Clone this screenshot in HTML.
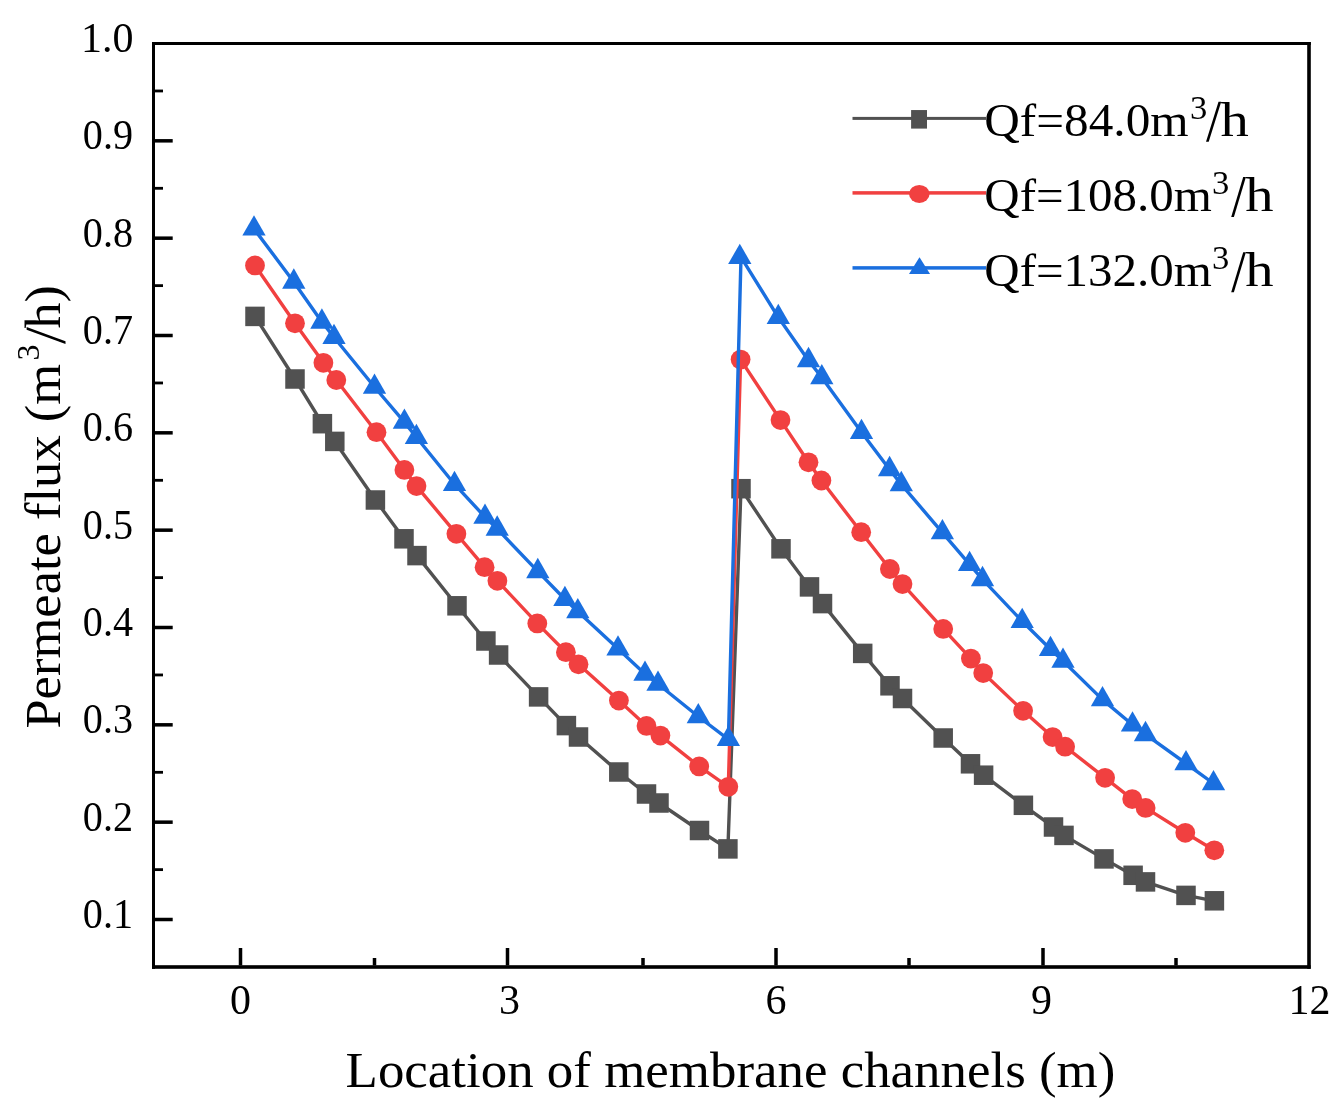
<!DOCTYPE html>
<html><head><meta charset="utf-8"><title>Permeate flux chart</title>
<style>html,body{margin:0;padding:0;background:#fff;}body{width:1343px;height:1109px;overflow:hidden;font-family:"Liberation Serif",serif;}svg{display:block;will-change:transform;}</style>
</head><body>
<svg width="1343" height="1109" viewBox="0 0 1343 1109"><rect x="152" y="42" width="3" height="926.8" fill="#000"/>
<rect x="152" y="42" width="1158.8" height="3" fill="#000"/>
<rect x="1307.2" y="42" width="3.6" height="926.8" fill="#000"/>
<rect x="152" y="965.2" width="1158.6" height="3.6" fill="#000"/>
<rect x="155" y="89.57" width="8" height="2.8" fill="#000"/>
<rect x="155" y="139.08" width="17.7" height="3.5" fill="#000"/>
<rect x="155" y="186.9" width="8" height="2.8" fill="#000"/>
<rect x="155" y="236.42" width="17.7" height="3.5" fill="#000"/>
<rect x="155" y="284.23" width="8" height="2.8" fill="#000"/>
<rect x="155" y="333.75" width="17.7" height="3.5" fill="#000"/>
<rect x="155" y="381.57" width="8" height="2.8" fill="#000"/>
<rect x="155" y="431.08" width="17.7" height="3.5" fill="#000"/>
<rect x="155" y="478.9" width="8" height="2.8" fill="#000"/>
<rect x="155" y="528.41" width="17.7" height="3.5" fill="#000"/>
<rect x="155" y="576.23" width="8" height="2.8" fill="#000"/>
<rect x="155" y="625.75" width="17.7" height="3.5" fill="#000"/>
<rect x="155" y="673.56" width="8" height="2.8" fill="#000"/>
<rect x="155" y="723.08" width="17.7" height="3.5" fill="#000"/>
<rect x="155" y="770.9" width="8" height="2.8" fill="#000"/>
<rect x="155" y="820.41" width="17.7" height="3.5" fill="#000"/>
<rect x="155" y="868.23" width="8" height="2.8" fill="#000"/>
<rect x="155" y="917.75" width="17.7" height="3.5" fill="#000"/>
<rect x="238.75" y="948" width="3.5" height="17.5" fill="#000"/>
<rect x="505.75" y="948" width="3.5" height="17.5" fill="#000"/>
<rect x="774.25" y="948" width="3.5" height="17.5" fill="#000"/>
<rect x="1041.25" y="948" width="3.5" height="17.5" fill="#000"/>
<rect x="372.75" y="958" width="3.5" height="7.5" fill="#000"/>
<rect x="641.25" y="958" width="3.5" height="7.5" fill="#000"/>
<rect x="907.25" y="958" width="3.5" height="7.5" fill="#000"/>
<rect x="1174.25" y="958" width="3.5" height="7.5" fill="#000"/>
<g font-family="Liberation Serif" font-size="42" fill="#000"><text x="133.5" y="51.5" text-anchor="end">1.0</text><text x="133" y="149.43" text-anchor="end" textLength="50.2" lengthAdjust="spacingAndGlyphs">0.9</text><text x="133" y="246.77" text-anchor="end" textLength="50.2" lengthAdjust="spacingAndGlyphs">0.8</text><text x="133" y="344.1" text-anchor="end" textLength="50.2" lengthAdjust="spacingAndGlyphs">0.7</text><text x="133" y="441.43" text-anchor="end" textLength="50.2" lengthAdjust="spacingAndGlyphs">0.6</text><text x="133" y="538.76" text-anchor="end" textLength="50.2" lengthAdjust="spacingAndGlyphs">0.5</text><text x="133" y="636.1" text-anchor="end" textLength="50.2" lengthAdjust="spacingAndGlyphs">0.4</text><text x="133" y="733.43" text-anchor="end" textLength="50.2" lengthAdjust="spacingAndGlyphs">0.3</text><text x="133" y="830.76" text-anchor="end" textLength="50.2" lengthAdjust="spacingAndGlyphs">0.2</text><text x="133" y="928.1" text-anchor="end" textLength="50.2" lengthAdjust="spacingAndGlyphs">0.1</text></g>
<g font-family="Liberation Serif" font-size="42" fill="#000"><text x="240.5" y="1014.4" text-anchor="middle">0</text><text x="509.5" y="1014.4" text-anchor="middle">3</text><text x="776" y="1014.4" text-anchor="middle">6</text><text x="1041.5" y="1014.4" text-anchor="middle">9</text><text x="1309.6" y="1014.4" text-anchor="middle">12</text></g>
<text x="345.6" y="1087.4" font-family="Liberation Serif" font-size="49.6" textLength="769.8" lengthAdjust="spacingAndGlyphs">Location of membrane channels (m)</text>
<g transform="translate(60,727.1) rotate(-90)" font-family="Liberation Serif" fill="#000"><text x="-1.52" y="0" font-size="49.6" textLength="364.8" lengthAdjust="spacingAndGlyphs">Permeate flux (m</text><text x="366.7" y="-20.6" font-size="32">3</text><text x="398.6" y="0" font-size="49.6" textLength="43.3" lengthAdjust="spacingAndGlyphs">h)</text></g>
<polygon points="26.6,327.0 65.5,341.3 65.5,344.0 26.6,329.7" fill="#000"/>
<polyline points="255,316.4 295,379 322.4,423.7 334.8,441.4 375.4,500 404,538.8 417,555.6 457,605.8 485.9,641 498.6,655 538.6,696.9 566.4,725.6 578.5,737 618.8,772 646.5,794 659,803 699.5,830.5 727.9,848.9 741,488.7 781,548.8 809.5,586.9 822.5,603.6 862.7,653.4 890,685.8 902.5,698.5 943.2,738 970.5,763.8 983.6,775.2 1023.4,805.3 1053.5,827 1064,835.4 1104,858.9 1133.1,875.3 1145.5,881.9 1186,895.4 1214.4,900.8" fill="none" stroke="#515151" stroke-width="3.4" stroke-linejoin="round" stroke-linecap="round"/>
<g fill="#515151"><rect x="245.25" y="306.65" width="19.5" height="19.5"/><rect x="285.25" y="369.25" width="19.5" height="19.5"/><rect x="312.65" y="413.95" width="19.5" height="19.5"/><rect x="325.05" y="431.65" width="19.5" height="19.5"/><rect x="365.65" y="490.25" width="19.5" height="19.5"/><rect x="394.25" y="529.05" width="19.5" height="19.5"/><rect x="407.25" y="545.85" width="19.5" height="19.5"/><rect x="447.25" y="596.05" width="19.5" height="19.5"/><rect x="476.15" y="631.25" width="19.5" height="19.5"/><rect x="488.85" y="645.25" width="19.5" height="19.5"/><rect x="528.85" y="687.15" width="19.5" height="19.5"/><rect x="556.65" y="715.85" width="19.5" height="19.5"/><rect x="568.75" y="727.25" width="19.5" height="19.5"/><rect x="609.05" y="762.25" width="19.5" height="19.5"/><rect x="636.75" y="784.25" width="19.5" height="19.5"/><rect x="649.25" y="793.25" width="19.5" height="19.5"/><rect x="689.75" y="820.75" width="19.5" height="19.5"/><rect x="718.15" y="839.15" width="19.5" height="19.5"/><rect x="731.25" y="478.95" width="19.5" height="19.5"/><rect x="771.25" y="539.05" width="19.5" height="19.5"/><rect x="799.75" y="577.15" width="19.5" height="19.5"/><rect x="812.75" y="593.85" width="19.5" height="19.5"/><rect x="852.95" y="643.65" width="19.5" height="19.5"/><rect x="880.25" y="676.05" width="19.5" height="19.5"/><rect x="892.75" y="688.75" width="19.5" height="19.5"/><rect x="933.45" y="728.25" width="19.5" height="19.5"/><rect x="960.75" y="754.05" width="19.5" height="19.5"/><rect x="973.85" y="765.45" width="19.5" height="19.5"/><rect x="1013.65" y="795.55" width="19.5" height="19.5"/><rect x="1043.75" y="817.25" width="19.5" height="19.5"/><rect x="1054.25" y="825.65" width="19.5" height="19.5"/><rect x="1094.25" y="849.15" width="19.5" height="19.5"/><rect x="1123.35" y="865.55" width="19.5" height="19.5"/><rect x="1135.75" y="872.15" width="19.5" height="19.5"/><rect x="1176.25" y="885.65" width="19.5" height="19.5"/><rect x="1204.65" y="891.05" width="19.5" height="19.5"/></g>
<polyline points="255,265.4 295,323.3 323.4,362.8 336.3,380 376.5,432.2 404.4,469.9 416.5,486.1 456.4,533.8 484.6,567.2 497.4,580.8 537.3,623.4 565.9,652.2 578.5,664.3 618.9,700.6 646.5,725.9 660.4,735.6 699.2,766.4 728.3,786.8 740.6,359.6 780.5,420.1 808.5,462.3 821.4,480.5 861.2,532.2 889.9,569 902.5,584.1 943.2,628.9 970.9,658.6 983.2,673.1 1023.1,710.8 1052.6,737.1 1065.1,746.7 1105.1,777.8 1132.2,799.1 1145.6,807.9 1185.3,832.8 1214.3,850.3" fill="none" stroke="#F14040" stroke-width="3.4" stroke-linejoin="round" stroke-linecap="round"/>
<g fill="#F14040"><circle cx="255" cy="265.4" r="9.9"/><circle cx="295" cy="323.3" r="9.9"/><circle cx="323.4" cy="362.8" r="9.9"/><circle cx="336.3" cy="380" r="9.9"/><circle cx="376.5" cy="432.2" r="9.9"/><circle cx="404.4" cy="469.9" r="9.9"/><circle cx="416.5" cy="486.1" r="9.9"/><circle cx="456.4" cy="533.8" r="9.9"/><circle cx="484.6" cy="567.2" r="9.9"/><circle cx="497.4" cy="580.8" r="9.9"/><circle cx="537.3" cy="623.4" r="9.9"/><circle cx="565.9" cy="652.2" r="9.9"/><circle cx="578.5" cy="664.3" r="9.9"/><circle cx="618.9" cy="700.6" r="9.9"/><circle cx="646.5" cy="725.9" r="9.9"/><circle cx="660.4" cy="735.6" r="9.9"/><circle cx="699.2" cy="766.4" r="9.9"/><circle cx="728.3" cy="786.8" r="9.9"/><circle cx="740.6" cy="359.6" r="9.9"/><circle cx="780.5" cy="420.1" r="9.9"/><circle cx="808.5" cy="462.3" r="9.9"/><circle cx="821.4" cy="480.5" r="9.9"/><circle cx="861.2" cy="532.2" r="9.9"/><circle cx="889.9" cy="569" r="9.9"/><circle cx="902.5" cy="584.1" r="9.9"/><circle cx="943.2" cy="628.9" r="9.9"/><circle cx="970.9" cy="658.6" r="9.9"/><circle cx="983.2" cy="673.1" r="9.9"/><circle cx="1023.1" cy="710.8" r="9.9"/><circle cx="1052.6" cy="737.1" r="9.9"/><circle cx="1065.1" cy="746.7" r="9.9"/><circle cx="1105.1" cy="777.8" r="9.9"/><circle cx="1132.2" cy="799.1" r="9.9"/><circle cx="1145.6" cy="807.9" r="9.9"/><circle cx="1185.3" cy="832.8" r="9.9"/><circle cx="1214.3" cy="850.3" r="9.9"/></g>
<polyline points="254,228.8 293.8,281.9 321.9,321.9 334,337.2 374.5,387 404.4,422.1 416.4,437.2 454.5,484.2 485,517 497.2,528.9 537.8,571.4 564.9,599.3 577.8,611.5 618,648.8 645,674 658,684 698.3,716.5 728.4,739.3 741,257.2 778.3,317.3 808.5,360.4 821.8,377.5 861.5,432.2 889.6,469.4 901.3,484.4 942.4,532.6 969.6,564.3 982.5,579.4 1022.2,621.3 1050.5,649.3 1063,661 1102.5,699.6 1132.5,724.7 1145.5,734.4 1186,763.5 1213.5,783.5" fill="none" stroke="#1A6FDF" stroke-width="3.4" stroke-linejoin="round" stroke-linecap="round"/>
<g fill="#1A6FDF"><polygon points="254,215.27 242.35,235.57 265.65,235.57"/><polygon points="293.8,268.37 282.15,288.67 305.45,288.67"/><polygon points="321.9,308.37 310.25,328.67 333.55,328.67"/><polygon points="334,323.67 322.35,343.97 345.65,343.97"/><polygon points="374.5,373.47 362.85,393.77 386.15,393.77"/><polygon points="404.4,408.57 392.75,428.87 416.05,428.87"/><polygon points="416.4,423.67 404.75,443.97 428.05,443.97"/><polygon points="454.5,470.67 442.85,490.97 466.15,490.97"/><polygon points="485,503.47 473.35,523.77 496.65,523.77"/><polygon points="497.2,515.37 485.55,535.67 508.85,535.67"/><polygon points="537.8,557.87 526.15,578.17 549.45,578.17"/><polygon points="564.9,585.77 553.25,606.07 576.55,606.07"/><polygon points="577.8,597.97 566.15,618.27 589.45,618.27"/><polygon points="618,635.27 606.35,655.57 629.65,655.57"/><polygon points="645,660.47 633.35,680.77 656.65,680.77"/><polygon points="658,670.47 646.35,690.77 669.65,690.77"/><polygon points="698.3,702.97 686.65,723.27 709.95,723.27"/><polygon points="728.4,725.77 716.75,746.07 740.05,746.07"/><polygon points="739.8,243.67 728.15,263.97 751.45,263.97"/><polygon points="778.3,303.77 766.65,324.07 789.95,324.07"/><polygon points="808.5,346.87 796.85,367.17 820.15,367.17"/><polygon points="821.8,363.97 810.15,384.27 833.45,384.27"/><polygon points="861.5,418.67 849.85,438.97 873.15,438.97"/><polygon points="889.6,455.87 877.95,476.17 901.25,476.17"/><polygon points="901.3,470.87 889.65,491.17 912.95,491.17"/><polygon points="942.4,519.07 930.75,539.37 954.05,539.37"/><polygon points="969.6,550.77 957.95,571.07 981.25,571.07"/><polygon points="982.5,565.87 970.85,586.17 994.15,586.17"/><polygon points="1022.2,607.77 1010.55,628.07 1033.85,628.07"/><polygon points="1050.5,635.77 1038.85,656.07 1062.15,656.07"/><polygon points="1063,647.47 1051.35,667.77 1074.65,667.77"/><polygon points="1102.5,686.07 1090.85,706.37 1114.15,706.37"/><polygon points="1132.5,711.17 1120.85,731.47 1144.15,731.47"/><polygon points="1145.5,720.87 1133.85,741.17 1157.15,741.17"/><polygon points="1186,749.97 1174.35,770.27 1197.65,770.27"/><polygon points="1213.5,769.97 1201.85,790.27 1225.15,790.27"/></g>
<g font-family="Liberation Serif" fill="#000"><rect x="852.5" y="116.9" width="133.5" height="3" fill="#515151"/><rect x="911.1" y="110.05" width="15.9" height="18.55" fill="#515151"/><text x="984.3" y="135.7" font-size="47" textLength="204.3" lengthAdjust="spacingAndGlyphs">Qf=84.0m</text><text x="1190" y="119.4" font-size="34.5">3</text><polygon points="1206,141.7 1208.7,141.7 1221.2,101.7 1218.5,101.7"/><text x="1220.4" y="135.7" font-size="48.8" textLength="28.3" lengthAdjust="spacingAndGlyphs">h</text><rect x="852.5" y="191.15" width="133.5" height="3.5" fill="#F14040"/><ellipse cx="919.3" cy="193.9" rx="10.25" ry="9" fill="#F14040"/><text x="984.3" y="211.1" font-size="47" textLength="227.5" lengthAdjust="spacingAndGlyphs">Qf=108.0m</text><text x="1211.9" y="193.5" font-size="34.5">3</text><polygon points="1231.2,217.1 1233.9,217.1 1245.9,177.1 1243.2,177.1"/><text x="1245.3" y="211.1" font-size="48.8" textLength="28.3" lengthAdjust="spacingAndGlyphs">h</text><rect x="852.5" y="266.15" width="133.5" height="3.5" fill="#1A6FDF"/><polygon points="919.5,257.3 909,274 930.1,274" fill="#1A6FDF"/><text x="984.3" y="286.2" font-size="47" textLength="227.5" lengthAdjust="spacingAndGlyphs">Qf=132.0m</text><text x="1211.9" y="268.6" font-size="34.5">3</text><polygon points="1231.2,292.2 1233.9,292.2 1245.9,252.2 1243.2,252.2"/><text x="1245.3" y="286.2" font-size="48.8" textLength="28.3" lengthAdjust="spacingAndGlyphs">h</text></g></svg>
</body></html>
